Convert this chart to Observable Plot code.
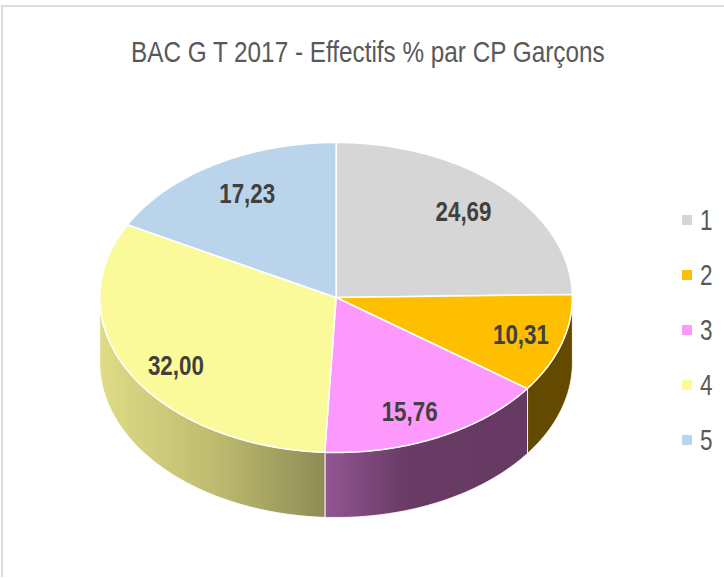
<!DOCTYPE html>
<html lang="fr">
<head>
<meta charset="utf-8">
<script src="https://cdn.jsdelivr.net/npm/d3@7"></script>
<script src="https://cdn.jsdelivr.net/npm/@observablehq/plot@0.6"></script>
<style>
  html, body { margin: 0; padding: 0; background: #fff; }
  #frame { position: relative; width: 724px; height: 578px; overflow: hidden; font-family: "Liberation Sans", sans-serif; }
  #edge { position: absolute; left: 1px; top: 5px; right: 0; bottom: 1px; border-top: 2px solid #dcdcdc; border-left: 2px solid #dcdcdc; }
  #title { position: absolute; left: 131px; top: 35px; white-space: nowrap; font-size: 30px; line-height: 34px; color: #595959; transform-origin: 0 50%; transform: scaleX(0.81); }
  #chart { position: absolute; left: 0; top: 0; }
  #chart svg { display: block; }
  #legend { position: absolute; left: 682px; top: 192px; }
  #legend div { height: 55px; display: flex; align-items: center; font-size: 30px; color: #595959; }
  #legend i { display: block; width: 10px; height: 10px; margin-right: 8px; }
  #legend span { display: block; transform-origin: 0 50%; transform: scaleX(0.75); }
</style>
</head>
<body>
<div id="frame">
  <div id="edge"></div>
  <div id="chart"></div>
  <div id="title"></div>
  <div id="legend"></div>
</div>
<script>
const titleText = "BAC G T 2017 - Effectifs % par CP Garçons";
const categories = ["1", "2", "3", "4", "5"];
const values = [24.69, 10.31, 15.76, 32.00, 17.23];
const colors = ["#d6d6d6", "#fdbf00", "#fd99fd", "#fbfa9b", "#bad5eb"];
const wallFills = ["#6e6e6e", "#634a00", "url(#wall3)", "url(#wall4)", "#5f6f7c"];
const labelRx = [0.77, 0.82, 0.72, 0.78, 0.73];
const labelRy = [0.77, 0.80, 0.82, 0.90, 0.78];

const depth = 65 / 155;
const pieces = d3.pie().sort(null).value(d => d)(values);
const turn = 2 * Math.PI;

function arcPoints(a0, a1, step = 0.01) {
  const n = Math.max(1, Math.ceil((a1 - a0) / step));
  return d3.range(n + 1).map(i => a0 + (a1 - a0) * i / n);
}

const tops = [];
const walls = [[], [], [], [], []];
pieces.forEach((p, i) => {
  tops.push({id: i, x: 0, y: 0});
  for (const a of arcPoints(p.startAngle, p.endAngle)) {
    tops.push({id: i, x: Math.sin(a), y: -Math.cos(a)});
  }
  const a0 = Math.max(p.startAngle, turn / 4);
  const a1 = Math.min(p.endAngle, 3 * turn / 4);
  if (a1 > a0) {
    const arc = arcPoints(a0, a1);
    for (const a of arc) walls[i].push({id: i, x: Math.sin(a), y: -Math.cos(a)});
    for (const a of arc.slice().reverse()) walls[i].push({id: i, x: Math.sin(a), y: -Math.cos(a) + depth});
  }
});

const labels = pieces.map((p, i) => {
  const mid = (p.startAngle + p.endAngle) / 2;
  return {
    x: labelRx[i] * Math.sin(mid),
    y: -labelRy[i] * Math.cos(mid),
    text: d3.format(".2f")(values[i]).replace(".", ",")
  };
});

const wallMarks = walls.map((w, i) => w.length ? Plot.line(w, {
  x: "x", y: "y", curve: "linear-closed",
  fill: wallFills[i], stroke: "#ffffff", strokeWidth: 1, strokeOpacity: 0.85
}) : null).filter(Boolean);

const plot = Plot.plot({
  width: 724, height: 578,
  margin: 0,
  style: {background: "transparent"},
  x: {domain: [-335.6 / 236.3, 388.4 / 236.3], range: [0, 724], axis: null},
  y: {domain: [-297 / 155, 281 / 155], range: [0, 578], axis: null},
  marks: [
    ...wallMarks,
    ...colors.map((c, i) => Plot.line(tops.filter(d => d.id === i), {
      x: "x", y: "y", curve: "linear-closed",
      fill: c, stroke: "#ffffff", strokeWidth: 1.5
    })),
    Plot.text(labels, {
      x: "x", y: "y", text: "text",
      fontSize: 28, fontWeight: "bold", fill: "#404040",
      fontFamily: "'Liberation Sans', sans-serif"
    })
  ]
});

// Condense the data labels to the narrow proportions of the reference's typeface.
d3.select(plot).selectAll("text")
  .attr("textLength", 56)
  .attr("lengthAdjust", "spacingAndGlyphs");

const defs = d3.select(plot).insert("defs", ":first-child");
function gradient(id, stops) {
  const g = defs.append("linearGradient").attr("id", id)
    .attr("x1", 0).attr("x2", 1).attr("y1", 0).attr("y2", 0);
  for (const [o, c] of stops) g.append("stop").attr("offset", o).attr("stop-color", c);
}
gradient("wall3", [[0, "#925692"], [0.4, "#693b66"], [1, "#663a63"]]);
gradient("wall4", [[0, "#dfdc86"], [0.5, "#bfbc70"], [1, "#8e8c55"]]);

document.getElementById("chart").appendChild(plot);
document.getElementById("title").textContent = titleText;
const legend = d3.select("#legend");
categories.forEach((c, i) => {
  const row = legend.append("div");
  row.append("i").style("background", colors[i]);
  row.append("span").text(c);
});
</script>
</body>
</html>
